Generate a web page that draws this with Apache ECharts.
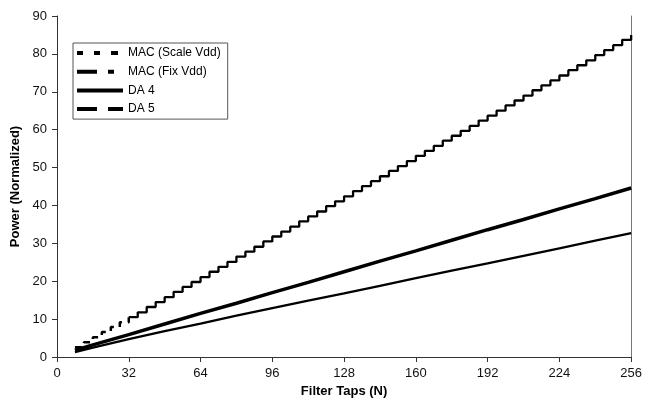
<!DOCTYPE html>
<html>
<head>
<meta charset="utf-8">
<script src="https://cdn.jsdelivr.net/npm/echarts@6/dist/echarts.min.js"></script>
<style>
  html, body { margin: 0; padding: 0; background: #fff; }
  #chart { width: 645px; height: 412px; }
</style>
</head>
<body>
<div id="chart"></div>
<script>
// x axis ticks
const xTicks = [0, 32, 64, 96, 128, 160, 192, 224, 256];

// MAC (Scale Vdd) - short dashed staircase, 8..32 taps
const scaleTaps = [8, 12, 16, 20, 24, 28, 32];
const scaleVals = [2.6, 3.9, 5.2, 6.6, 7.9, 9.2, 10.5];

// MAC (Fix Vdd) - staircase, 32..256 taps
const fixTaps = [32, 36, 40, 44, 48, 52, 56, 60, 64, 68, 72, 76, 80, 84, 88, 92, 96,
  100, 104, 108, 112, 116, 120, 124, 128, 132, 136, 140, 144, 148, 152, 156, 160,
  164, 168, 172, 176, 180, 184, 188, 192, 196, 200, 204, 208, 212, 216, 220, 224,
  228, 232, 236, 240, 244, 248, 252, 256];
const fixVals = [10.5, 11.8, 13.2, 14.5, 15.8, 17.2, 18.5, 19.8, 21.1, 22.5, 23.8, 25.1,
  26.5, 27.8, 29.1, 30.5, 31.8, 33.1, 34.4, 35.8, 37.1, 38.4, 39.8, 41.1, 42.4, 43.8,
  45.1, 46.4, 47.7, 49.1, 50.4, 51.7, 53.1, 54.4, 55.7, 57.1, 58.4, 59.7, 61.0, 62.4,
  63.7, 65.0, 66.4, 67.7, 69.0, 70.4, 71.7, 73.0, 74.3, 75.7, 77.0, 78.3, 79.7, 81.0,
  82.3, 83.7, 85.0];

// DA lines
const daTaps = [8, 16, 32, 48, 64, 80, 96, 112, 128, 144, 160, 176, 192, 208, 224, 240, 256];
const da4Vals = [1.3, 2.5, 4.7, 6.8, 8.8, 10.9, 12.9, 14.9, 16.8, 18.8, 20.8, 22.8, 24.7, 26.7, 28.7, 30.7, 32.7];
const da5Vals = [1.8, 3.2, 5.9, 8.7, 11.5, 14.2, 17.0, 19.7, 22.5, 25.3, 28.0, 30.8, 33.6, 36.3, 39.1, 41.8, 44.6];

const pairs = (xs, ys) => xs.map((x, i) => [x, ys[i]]);

const font = "'Liberation Sans', Arial, sans-serif";

// legend icons (46 x 4), tiny rect at the end keeps the full width
const tail = " M45.9 1.9h0.1v0.1h-0.1Z";
const icons = {
  scale: "path://M0 0h6v4h-6Z M17 0h6v4h-6Z M34 0h7v4h-7Z" + tail,
  fix: "path://M0 0h20v4h-20Z M31 0h6v4h-6Z" + tail,
  da4: "path://M0 0h46v4h-46Z",
  da5: "path://M0 0h20v4h-20Z M31 0h15v4h-15Z",
};

const chart = echarts.init(document.getElementById("chart"));

const options = {
  animation: false,
  backgroundColor: "#fff",
  textStyle: { fontFamily: font },
  grid: { left: 57, right: 4, top: 16, bottom: 55 },
  legend: {
    orient: "vertical",
    left: 73,
    top: 43,
    padding: [3, 7, 3, 4],
    itemWidth: 46,
    itemHeight: 4,
    itemGap: 4.7,
    borderColor: "#555",
    borderWidth: 1,
    backgroundColor: "#fff",
    textStyle: { fontFamily: font, fontSize: 12, color: "#000", lineHeight: 14 },
    data: [
      { name: "MAC (Scale Vdd)", icon: icons.scale },
      { name: "MAC (Fix Vdd)", icon: icons.fix },
      { name: "DA 4", icon: icons.da4 },
      { name: "DA 5", icon: icons.da5 },
    ],
  },
  xAxis: {
    type: "value",
    min: xTicks[0],
    max: xTicks[xTicks.length - 1],
    interval: 32,
    name: "Filter Taps (N)",
    nameLocation: "middle",
    nameGap: 23,
    nameTextStyle: { fontFamily: font, fontSize: 13, fontWeight: "bold", color: "#000" },
    axisLine: { lineStyle: { color: "#333", width: 1 } },
    axisTick: { length: 5, lineStyle: { color: "#333" } },
    axisLabel: { fontFamily: font, fontSize: 13, color: "#111", margin: 10 },
    splitLine: { show: false },
  },
  yAxis: [
    {
      type: "value",
      min: 0,
      max: 90,
      interval: 10,
      name: "Power (Normalized)",
      nameLocation: "middle",
      nameGap: 24,
      nameTextStyle: { fontFamily: font, fontSize: 13, fontWeight: "bold", color: "#000" },
      axisLine: { show: true, lineStyle: { color: "#333", width: 1 } },
      axisTick: { show: true, length: 5, lineStyle: { color: "#333" } },
      axisLabel: { fontFamily: font, fontSize: 13, color: "#111", margin: 10 },
      splitLine: { show: false },
    },
    {
      type: "value",
      position: "right",
      min: 0,
      max: 90,
      interval: 10,
      axisLine: { show: true, lineStyle: { color: "#777", width: 1 } },
      axisTick: { show: false },
      axisLabel: { show: false },
      splitLine: { show: false },
    },
  ],
  series: [
    {
      name: "MAC (Scale Vdd)",
      type: "line",
      step: "end",
      showSymbol: false,
      color: "#000",
      lineStyle: { color: "#000", width: 2.5, type: [7, 6] },
      data: pairs(scaleTaps, scaleVals),
    },
    {
      name: "MAC (Fix Vdd)",
      type: "line",
      step: "end",
      showSymbol: false,
      color: "#000",
      lineStyle: { color: "#000", width: 2.3 },
      data: pairs(fixTaps, fixVals),
    },
    {
      name: "DA 4",
      type: "line",
      showSymbol: false,
      color: "#000",
      lineStyle: { color: "#000", width: 2.3 },
      data: pairs(daTaps, da4Vals),
    },
    {
      name: "DA 5",
      type: "line",
      showSymbol: false,
      color: "#000",
      lineStyle: { color: "#000", width: 3.5 },
      data: pairs(daTaps, da5Vals),
    },
  ],
};

chart.setOption(options);

window.addEventListener("resize", () => {
  chart.resize();
});
</script>
</body>
</html>
